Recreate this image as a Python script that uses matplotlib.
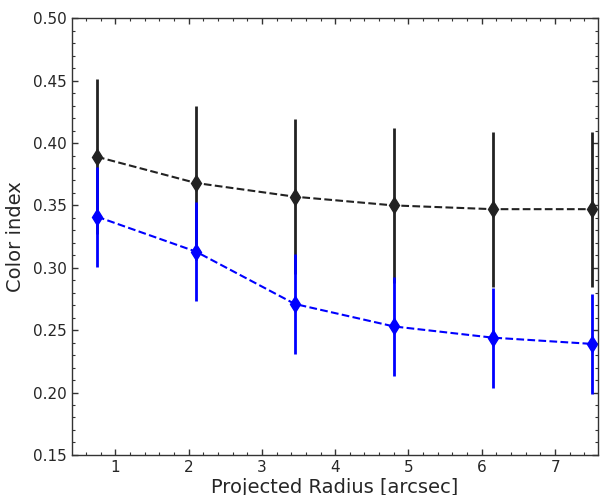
import matplotlib
matplotlib.use("Agg")
import matplotlib.pyplot as plt
from matplotlib.ticker import MultipleLocator

radius = [0.75, 2.10, 3.45, 4.80, 6.15, 7.50]
color_outer = [0.389, 0.368, 0.357, 0.350, 0.347, 0.347]
err_outer = [0.062, 0.062, 0.062, 0.062, 0.062, 0.062]
color_inner = [0.341, 0.313, 0.271, 0.253, 0.244, 0.239]
err_inner = [0.040, 0.040, 0.040, 0.040, 0.040, 0.040]

fig = plt.figure(figsize=(6.0, 4.95), dpi=100)
ax = fig.add_axes([0.12, 0.081, 0.876, 0.882])

ax.errorbar(radius, color_outer, yerr=err_outer, fmt='d--', color='#222222',
            ms=8, lw=1.5, elinewidth=2, capsize=0)
ax.errorbar(radius, color_inner, yerr=err_inner, fmt='d--', color='#0000ff',
            ms=8, lw=1.5, elinewidth=2, capsize=0)

ax.set_xlim(0.41, 7.58)
ax.set_ylim(0.15, 0.50)
ax.xaxis.set_major_locator(MultipleLocator(1))
ax.xaxis.set_minor_locator(MultipleLocator(0.2))
ax.yaxis.set_major_locator(MultipleLocator(0.05))
ax.yaxis.set_minor_locator(MultipleLocator(0.01))
ax.tick_params(which='both', direction='in', top=True, right=True,
               colors='#333333', labelcolor='#262626', labelsize=11)
ax.tick_params(which='major', length=4, width=1)
ax.tick_params(which='minor', length=2, width=0.8)
for s in ax.spines.values():
    s.set_color('#333333')
    s.set_linewidth(1.0)

ax.set_xlabel('Projected Radius [arcsec]', fontsize=14, color='#262626', labelpad=2)
ax.set_ylabel('Color index', fontsize=14, color='#262626', labelpad=6)

fig.savefig('out.png', dpi=100)
